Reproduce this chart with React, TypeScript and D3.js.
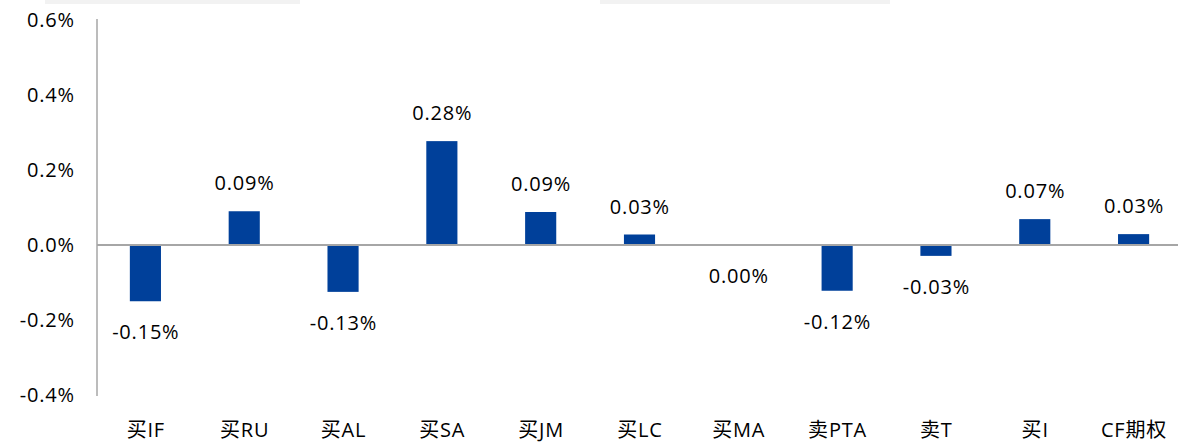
import React from "react";
import * as d3 from "d3";

const categories = ["买IF", "买RU", "买AL", "买SA", "买JM", "买LC", "买MA", "卖PTA", "卖T", "买I", "CF期权"];
const values = [-0.15, 0.09, -0.125, 0.277, 0.088, 0.028, -0.0005, -0.122, -0.029, 0.069, 0.029];
const labels = ["-0.15%", "0.09%", "-0.13%", "0.28%", "0.09%", "0.03%", "0.00%", "-0.12%", "-0.03%", "0.07%", "0.03%"];
const yTicks = [0.6, 0.4, 0.2, 0.0, -0.2, -0.4];

const W = 1178, H = 444;
const FONT = "'Open Sans', 'Noto Sans CJK SC', sans-serif";
const LS = 0.8;

export default function App() {
  const x = d3.scaleBand<string>().domain(categories).range([96, 1183]).paddingInner(0.685).paddingOuter(0.3425);
  const y = d3.scaleLinear().domain([-0.4, 0.6]).range([395, 20]);
  const bw = x.bandwidth();
  const txt = { fontFamily: FONT, fontSize: 20, fill: "#000", letterSpacing: LS } as const;
  return (
    <svg width={W} height={H} style={{ position: "absolute", left: 0, top: 0, background: "#fff" }}>
      <rect x={45} y={0} width={255} height={4} fill="#f2f2f2" />
      <rect x={600} y={0} width={290} height={4} fill="#f2f2f2" />
      {yTicks.map((t) => (
        <text key={t} x={74 + LS} y={y(t)} dy="0.35em" textAnchor="end" {...txt}>
          {t.toFixed(1) + "%"}
        </text>
      ))}
      {values.map((v, i) => {
        const c = categories[i];
        const top = y(Math.max(0, v));
        const h = Math.abs(y(v) - y(0));
        return <rect key={c} x={x(c)} y={top} width={bw} height={h} fill="#00409A" />;
      })}
      <line x1={97} x2={W} y1={y(0)} y2={y(0)} stroke="#a6a6a6" strokeWidth={2} />
      <line x1={97} x2={97} y1={y(0.6) - 1} y2={y(-0.4) + 1} stroke="#a6a6a6" strokeWidth={1.5} />
      {values.map((v, i) => {
        const c = categories[i];
        const cx = (x(c) as number) + bw / 2 + LS / 2;
        const ly = v > 0 ? y(v) - 28 : y(Math.min(v, 0)) + 31;
        return (
          <text key={"l" + c} x={cx} y={ly} dy="0.35em" textAnchor="middle" {...txt}>
            {labels[i]}
          </text>
        );
      })}
      {categories.map((c) => (
        <text key={"c" + c} x={(x(c) as number) + bw / 2 + LS / 2} y={430} dy="0.35em" textAnchor="middle" {...txt}>
          {c}
        </text>
      ))}
    </svg>
  );
}
